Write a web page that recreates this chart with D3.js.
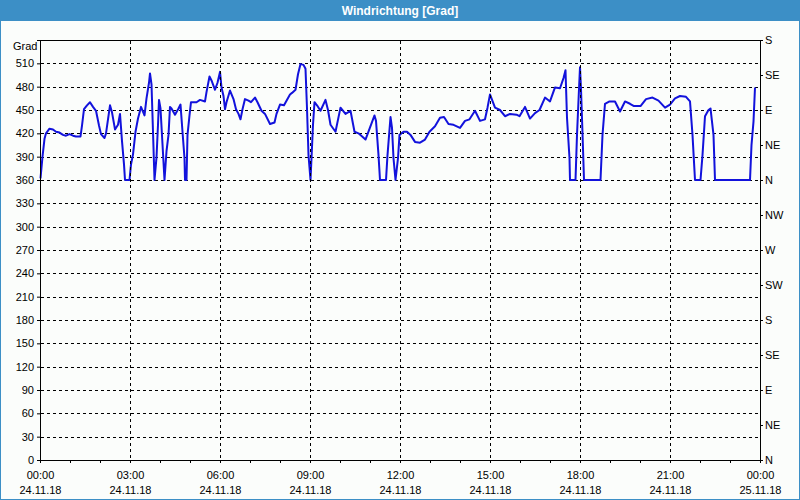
<!DOCTYPE html>
<html><head><meta charset="utf-8">
<script src="https://cdn.jsdelivr.net/npm/d3@7"></script>
<style>
html,body{margin:0;padding:0;background:#fbfdfb;}
svg{display:block;font-family:"Liberation Sans",Arial,sans-serif;}
</style></head>
<body>
<script>
// minutes since 24.11.18 00:00
const minutes = [1,5,9,12,19,26,32,39,46,52,59,66,72,81,84,88,94,100,106,112,118,122,129,132,136,140,144,150,156,160,164,168,170,179,182,186,191,196,202,209,213,218,220,223,226,229,233,236,238,241,245,249,253,257,260,263,270,277,281,285,289,290,293,295,299,302,313,320,330,333,339,343,350,355,360,363,367,370,373,380,387,392,397,401,405,410,417,422,430,435,443,450,460,469,473,480,488,493,500,504,511,516,521,527,531,534,537,541,543,546,549,554,561,571,576,581,591,601,611,621,629,637,651,669,672,677,680,692,695,701,704,707,711,716,719,727,734,741,750,760,770,779,790,800,808,817,827,840,850,859,870,880,890,895,900,910,920,930,940,953,959,970,980,990,999,1010,1020,1030,1040,1047,1051,1054,1059,1060,1071,1074,1078,1080,1082,1085,1088,1121,1125,1130,1139,1150,1160,1170,1180,1188,1201,1212,1225,1237,1250,1260,1270,1280,1292,1300,1305,1310,1321,1325,1330,1337,1341,1347,1350,1420,1423,1427,1430];
const values = [362,390,413,420,426,425,422,421,418,417,419,417,416,416,430,451,456,460,454,449,430,419,414,420,438,456,447,425,431,445,410,380,360,360,380,393,422,439,454,443,465,485,497,483,422,360,389,431,463,452,406,360,397,418,454,452,444,452,457,422,388,360,360,418,443,460,460,463,461,473,493,488,476,485,499,479,468,451,460,475,464,451,445,438,451,464,462,460,466,460,449,445,432,434,445,457,456,462,470,472,476,496,509,508,503,452,392,360,388,431,460,456,449,463,450,431,422,453,445,449,422,420,412,443,436,392,360,360,392,441,427,388,360,388,418,422,422,418,409,408,412,422,429,440,441,432,431,427,436,438,449,436,438,453,470,453,450,442,445,444,442,454,439,446,450,466,461,479,478,491,501,440,388,360,360,418,477,505,477,420,360,360,418,458,461,461,448,461,458,455,455,464,466,462,453,457,465,468,467,461,418,360,360,392,442,450,452,418,360,360,405,435,479];

const leftTicks = [0,30,60,90,120,150,180,210,240,270,300,330,360,390,420,450,480,510];
const rightTicks = [0,45,90,135,180,225,270,315,360,405,450,495,540];
const rightLabels = ["N","NE","E","SE","S","SW","W","NW","N","NE","E","SE","S"];
const timeTicks = [0,180,360,540,720,900,1080,1260,1440];
const timeLabels = ["00:00","03:00","06:00","09:00","12:00","15:00","18:00","21:00","00:00"];
const dateLabels = ["24.11.18","24.11.18","24.11.18","24.11.18","24.11.18","24.11.18","24.11.18","24.11.18","25.11.18"];
const hourTicks = d3.range(0,1441,60);
const title = "Windrichtung [Grad]";
const unit = "Grad";

const W=800,H=500;
const svg = d3.select("body").append("svg").attr("width",W).attr("height",H);
svg.append("rect").attr("x",0).attr("y",0).attr("width",W).attr("height",H).attr("fill","#fbfdfb");
svg.append("rect").attr("x",0.5).attr("y",0.5).attr("width",W-1).attr("height",H-1).attr("fill","none").attr("stroke","#3c8fc6").attr("stroke-width",1);
svg.append("rect").attr("x",0).attr("y",0).attr("width",W).attr("height",21).attr("fill","#3c8fc6");
svg.append("text").attr("x",400).attr("y",14.5).attr("text-anchor","middle").attr("fill","#fff")
  .attr("font-weight","bold").attr("font-size",12).text(title);

const x = d3.scaleLinear().domain([0,1440]).range([40,760]);
const y = d3.scaleLinear().domain([0,540]).range([460,40]);

// horizontal grid (under line)
svg.append("g").selectAll("line").data(leftTicks.filter(d=>d>0)).join("line")
  .attr("x1",41).attr("x2",760).attr("y1",d=>y(d)+0.5).attr("y2",d=>y(d)+0.5)
  .attr("stroke","#000").attr("stroke-dasharray","3,3").attr("shape-rendering","crispEdges");

// data line
const line = d3.line().x((d,i)=>x(minutes[i])).y(d=>y(d));
svg.append("path").datum(values).attr("d",line).attr("fill","none")
  .attr("stroke","#1212dc").attr("stroke-width",2).attr("stroke-linejoin","round");

// vertical grid (over line)
svg.append("g").selectAll("line").data(timeTicks.filter(d=>d>0&&d<1440)).join("line")
  .attr("y1",41).attr("y2",460).attr("x1",d=>x(d)+0.5).attr("x2",d=>x(d)+0.5)
  .attr("stroke","#000").attr("stroke-dasharray","3,3").attr("shape-rendering","crispEdges");

// top border
svg.append("line").attr("x1",40).attr("x2",761).attr("y1",40.5).attr("y2",40.5).attr("stroke","#000");

// axes
const fs = 11;
const la = svg.append("g").attr("transform","translate(40,0)")
  .call(d3.axisLeft(y).tickValues(leftTicks).tickSize(3).tickPadding(3).tickFormat(d3.format("d")));
const ra = svg.append("g").attr("transform","translate(760,0)")
  .call(d3.axisRight(y).tickValues(rightTicks).tickSize(3).tickPadding(2).tickFormat((d,i)=>rightLabels[i]));
const ba = svg.append("g").attr("transform","translate(0,460)")
  .call(d3.axisBottom(x).tickValues(hourTicks).tickSize(3).tickFormat(""));
[la,ra,ba].forEach(a=>{
  a.select(".domain").attr("stroke","#000");
  a.selectAll(".tick line").attr("stroke","#000");
  a.selectAll("text").attr("font-size",fs).attr("fill","#000").attr("font-family","Liberation Sans, Arial, sans-serif");
});
ba.select(".domain").attr("d","M40,0.5H760.5");

const bl = svg.append("g").attr("font-size",fs).attr("text-anchor","middle").attr("fill","#000");
bl.selectAll("text.t").data(timeTicks).join("text").attr("x",d=>x(d)+0.5).attr("y",479).text((d,i)=>timeLabels[i]);
bl.selectAll("text.d").data(timeTicks).join("text").attr("x",d=>x(d)+0.5).attr("y",494).text((d,i)=>dateLabels[i]);

svg.append("text").attr("x",13).attr("y",50).attr("font-size",fs).attr("fill","#000").text(unit);
</script>
</body></html>
